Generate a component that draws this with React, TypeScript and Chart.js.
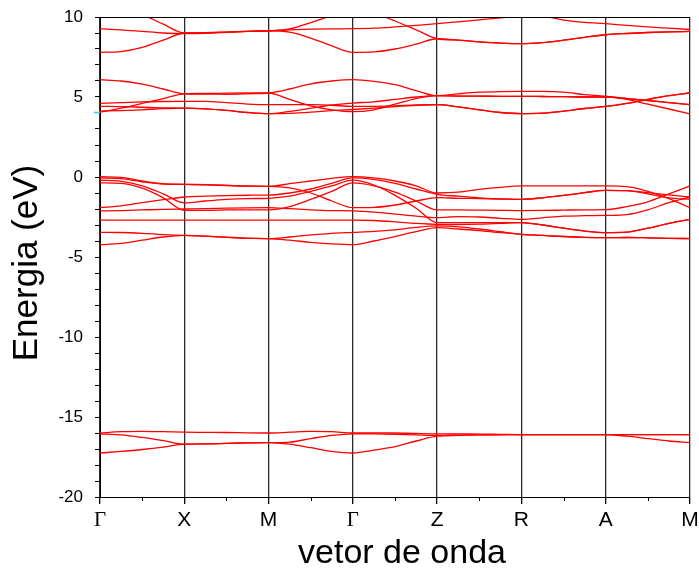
import { useEffect, useRef } from 'react';
import { Chart, registerables } from 'chart.js';

Chart.register(...registerables);

// Path through the Brillouin zone: one unit per high-symmetry segment
const kPath = [
  0, 0.25, 0.5, 0.75, 1, 1.25, 1.5, 1.75, 2, 2.25, 2.5, 2.75, 3, 3.25, 3.5,
  3.75, 4, 4.25, 4.5, 4.75, 5, 5.25, 5.5, 5.75, 6, 6.25, 6.5, 6.75, 7,
];
const kLabels = ['Γ', 'X', 'M', 'Γ', 'Z', 'R', 'A', 'M'];
const energyMin = -20;
const energyMax = 10;
const gapMarker = 4.04;
const xTitle = 'vetor de onda';
const yTitle = 'Energia (eV)';

// Upper conduction bands (eV)
const bandUpperA = [
  10.9, 10.55, 10.15, 9.55, 9.0, 9.02, 9.06, 9.1, 9.14, 9.25, 9.65, 10.1, 10.6,
  10.25, 9.75, 9.2, 8.64, 8.55, 8.45, 8.37, 8.33, 8.4, 8.55, 8.73, 8.89, 8.97,
  9.03, 9.07, 9.1,
];
const bandUpperB = [
  7.79, 7.84, 8.1, 8.55, 9.0, 9.02, 9.06, 9.1, 9.14, 9.05, 8.68, 8.2, 7.79,
  7.82, 8.0, 8.3, 8.64, 8.55, 8.45, 8.37, 8.33, 8.4, 8.55, 8.73, 8.89, 8.97,
  9.03, 9.07, 9.1,
];
const bandUpperC = [
  9.27, 9.2, 9.1, 9.0, 8.96, 8.98, 9.04, 9.1, 9.14, 9.2, 9.24, 9.26, 9.27, 9.3,
  9.38, 9.48, 9.58, 9.7, 9.82, 9.94, 10.04, 10.04, 9.8, 9.66, 9.58, 9.48, 9.38,
  9.3, 9.22,
];

// Lower conduction bands (eV)
const bandCond1 = [
  6.08, 6.0, 5.8, 5.5, 5.2, 5.18, 5.17, 5.2, 5.25, 5.5, 5.82, 6.0, 6.08, 5.98,
  5.77, 5.4, 5.08, 5.2, 5.3, 5.34, 5.35, 5.35, 5.3, 5.15, 5.05, 4.85, 4.55,
  4.25, 3.95,
];
const bandCond2 = [
  4.05, 4.3, 4.6, 4.9, 5.2, 5.22, 5.24, 5.25, 5.25, 4.85, 4.45, 4.2, 4.08, 4.2,
  4.55, 4.9, 5.08, 5.06, 5.05, 5.04, 5.04, 5.03, 5.02, 5.0, 5.0, 4.9, 4.78,
  4.65, 4.52,
];
const bandCond3 = [
  4.6, 4.65, 4.7, 4.72, 4.73, 4.73, 4.65, 4.56, 4.52, 4.52, 4.52, 4.48, 4.42,
  4.42, 4.45, 4.5, 4.52, 4.38, 4.2, 4.03, 3.96, 3.99, 4.12, 4.28, 4.41, 4.6,
  4.85, 5.08, 5.25,
];
const bandCond4 = [
  4.42, 4.4, 4.36, 4.32, 4.31, 4.26, 4.16, 4.03, 3.96, 3.98, 4.05, 4.15, 4.22,
  4.3, 4.4, 4.48, 4.52, 4.38, 4.2, 4.03, 3.96, 3.99, 4.12, 4.28, 4.41, 4.6,
  4.85, 5.08, 5.25,
];
const bandCond5 = [
  4.12, 4.15, 4.2, 4.27, 4.31, 4.26, 4.16, 4.03, 3.96, 4.1, 4.3, 4.5, 4.62,
  4.7, 4.85, 5.0, 5.08, 5.06, 5.05, 5.04, 5.04, 5.03, 5.02, 5.0, 5.0, 4.9,
  4.78, 4.65, 4.52,
];

// Valence bands (eV)
const bandVal1 = [
  0.02, -0.02, -0.25, -0.42, -0.46, -0.48, -0.52, -0.56, -0.58, -0.42, -0.25,
  -0.08, 0.02, -0.06, -0.25, -0.55, -1.0, -0.95, -0.77, -0.65, -0.56, -0.56,
  -0.56, -0.56, -0.56, -0.6, -0.9, -1.35, -1.92,
];
const bandVal2 = [
  -0.06, -0.1, -0.3, -0.44, -0.46, -0.49, -0.53, -0.57, -0.58, -0.68, -1.0,
  -1.5, -1.92, -1.9, -1.75, -1.5, -1.29, -1.33, -1.35, -1.38, -1.4, -1.3,
  -1.15, -0.98, -0.83, -0.85, -0.98, -1.12, -1.25,
];
const bandVal3 = [
  -0.2, -0.27, -0.55, -1.05, -1.62, -1.5, -1.4, -1.35, -1.33, -1.2, -0.9,
  -0.55, -0.2, -0.5, -1.15, -1.95, -2.85, -2.85, -2.85, -2.85, -2.85, -3.0,
  -3.2, -3.38, -3.48, -3.45, -3.2, -2.9, -2.65,
];
const bandVal4 = [
  -0.37, -0.4, -0.7, -1.3, -2.08, -2.08, -2.06, -2.05, -2.05, -1.85, -1.4,
  -0.9, -0.37, -0.55, -0.95, -1.5, -2.06, -2.06, -2.07, -2.08, -2.1, -2.09,
  -2.07, -2.05, -2.04, -1.85, -1.55, -1.05, -0.56,
];
const bandVal5 = [
  -1.92, -1.8, -1.6, -1.42, -1.25, -1.2, -1.16, -1.14, -1.13, -1.0, -0.75,
  -0.4, -0.06, -0.15, -0.4, -0.75, -1.08, -1.2, -1.3, -1.37, -1.4, -1.3, -1.15,
  -0.98, -0.83, -0.85, -1.05, -1.3, -1.4,
];
const bandVal6 = [
  -2.12, -2.1, -2.06, -2.02, -2.0, -1.98, -1.95, -1.93, -1.92, -1.98, -2.05,
  -2.1, -2.12, -2.2, -2.32, -2.45, -2.54, -2.48, -2.5, -2.58, -2.65, -2.55,
  -2.45, -2.42, -2.4, -2.35, -2.05, -1.6, -1.25,
];
const bandVal7 = [
  -2.69, -2.69, -2.69, -2.69, -2.69, -2.69, -2.69, -2.69, -2.69, -2.69, -2.69,
  -2.69, -2.69, -2.72, -2.8, -2.9, -2.96, -2.97, -2.95, -2.9, -2.85, -3.0,
  -3.2, -3.38, -3.48, -3.45, -3.2, -2.9, -2.65,
];
const bandVal8 = [
  -3.46, -3.47, -3.52, -3.6, -3.65, -3.7, -3.76, -3.82, -3.85, -3.75, -3.62,
  -3.52, -3.46, -3.4, -3.3, -3.15, -3.06, -3.12, -3.25, -3.42, -3.58, -3.65,
  -3.72, -3.77, -3.79, -3.78, -3.8, -3.83, -3.85,
];
const bandVal9 = [
  -4.23, -4.15, -3.95, -3.75, -3.65, -3.7, -3.77, -3.83, -3.85, -3.95, -4.08,
  -4.18, -4.23, -4.0, -3.72, -3.42, -3.17, -3.25, -3.35, -3.48, -3.58, -3.65,
  -3.72, -3.77, -3.79, -3.78, -3.8, -3.83, -3.85,
];

// Semicore bands (eV)
const bandDeep1 = [
  -16.0, -15.92, -15.9, -15.92, -15.95, -15.96, -15.97, -15.99, -16.0, -15.95,
  -15.9, -15.92, -16.0, -16.0, -16.0, -16.03, -16.05, -16.05, -16.07, -16.08,
  -16.1, -16.1, -16.1, -16.1, -16.1, -16.1, -16.1, -16.1, -16.1,
];
const bandDeep2 = [
  -16.05, -16.12, -16.28, -16.48, -16.7, -16.68, -16.65, -16.62, -16.6,
  -16.57, -16.35, -16.15, -16.05, -16.06, -16.08, -16.12, -16.15, -16.13,
  -16.12, -16.11, -16.1, -16.1, -16.1, -16.1, -16.1, -16.2, -16.35, -16.5,
  -16.6,
];
const bandDeep3 = [
  -17.25, -17.15, -17.03, -16.88, -16.7, -16.68, -16.65, -16.62, -16.6,
  -16.7, -16.92, -17.15, -17.25, -17.07, -16.85, -16.5, -16.2, -16.15, -16.12,
  -16.1, -16.1, -16.1, -16.1, -16.1, -16.1, -16.1, -16.1, -16.1, -16.1,
];

const bands = [
  bandUpperA, bandUpperB, bandUpperC,
  bandCond1, bandCond2, bandCond3, bandCond4, bandCond5,
  bandVal1, bandVal2, bandVal3, bandVal4, bandVal5, bandVal6, bandVal7, bandVal8, bandVal9,
  bandDeep1, bandDeep2, bandDeep3,
];

const SANS = "'Liberation Sans', Arial, sans-serif";
const SERIF = "'Liberation Serif', 'Times New Roman', serif";

// Frame top edge, half-way minor ticks on the k axis, the level marker and axis titles
const framePlugin = {
  id: 'bandFrame',
  afterDraw(chart: any) {
    const { ctx, chartArea } = chart;
    const xs = chart.scales.x;
    const ys = chart.scales.y;
    ctx.save();
    ctx.strokeStyle = '#000';
    ctx.lineWidth = 1;
    ctx.beginPath();
    ctx.moveTo(chartArea.left, chartArea.top + 0.5);
    ctx.lineTo(chartArea.right, chartArea.top + 0.5);
    for (let i = 0; i < kLabels.length - 1; i++) {
      const px = Math.round(xs.getPixelForValue(i + 0.5)) + 0.5;
      ctx.moveTo(px, chartArea.bottom);
      ctx.lineTo(px, chartArea.bottom + 4);
    }
    ctx.stroke();

    const my = Math.round(ys.getPixelForValue(gapMarker)) + 0.5;
    ctx.strokeStyle = '#19e0e8';
    ctx.lineWidth = 1.5;
    ctx.beginPath();
    ctx.moveTo(chartArea.left - 6, my);
    ctx.lineTo(chartArea.left, my);
    ctx.stroke();

    ctx.fillStyle = '#000';
    ctx.textAlign = 'center';
    ctx.textBaseline = 'middle';
    ctx.font = `34px ${SANS}`;
    ctx.fillText(xTitle, (chartArea.left + chartArea.right) / 2 + 7, 554);
    ctx.translate(27, (chartArea.top + chartArea.bottom) / 2 + 6);
    ctx.rotate(-Math.PI / 2);
    ctx.font = `35px ${SANS}`;
    ctx.fillText(yTitle, 0, 0);
    ctx.restore();
  },
};

export default function App() {
  const canvasRef = useRef<HTMLCanvasElement | null>(null);

  useEffect(() => {
    const canvas = canvasRef.current;
    if (!canvas) return;
    const chart = new Chart(canvas, {
      type: 'line',
      data: {
        datasets: bands.map((band) => ({
          data: kPath.map((k, i) => ({ x: k, y: band[i] })),
          borderColor: '#ff0000',
          borderWidth: 1.3,
          pointRadius: 0,
          fill: false,
          cubicInterpolationMode: 'monotone' as const,
        })),
      },
      options: {
        responsive: false,
        animation: false,
        devicePixelRatio: 1,
        layout: { padding: { top: 17, right: 9, left: 0, bottom: 0 } },
        plugins: { legend: { display: false }, tooltip: { enabled: false } },
        scales: {
          x: {
            type: 'linear',
            min: 0,
            max: kLabels.length - 1,
            afterFit: (s: any) => {
              s.height = 76;
              s.paddingLeft = 0;
              s.paddingRight = 0;
            },
            ticks: {
              stepSize: 1,
              autoSkip: false,
              maxRotation: 0,
              padding: 4,
              color: '#000',
              callback: (v: any) => kLabels[Math.round(Number(v))] ?? '',
              font: (c: any) => {
                const lbl = kLabels[c.index] ?? '';
                return lbl === 'Γ'
                  ? { family: SERIF, size: 21 }
                  : { family: SANS, size: 21 };
              },
            },
            grid: {
              color: '#2a2a2a',
              lineWidth: 1.3,
              drawTicks: true,
              tickLength: 7,
              tickColor: '#000',
            },
            border: { color: '#000', width: 1 },
            title: { display: false },
          },
          y: {
            type: 'linear',
            min: energyMin,
            max: energyMax,
            afterFit: (s: any) => {
              s.width = 100;
              s.paddingTop = 0;
              s.paddingBottom = 0;
            },
            ticks: {
              stepSize: 1,
              autoSkip: false,
              padding: 12,
              color: '#000',
              font: { family: SANS, size: 17 },
              callback: (v: any) => (Number(v) % 5 === 0 ? String(v) : ''),
            },
            grid: {
              drawOnChartArea: false,
              drawTicks: true,
              tickLength: 5,
              color: '#000',
            },
            border: { color: '#000', width: 1 },
            title: { display: false },
          },
        },
      },
      plugins: [framePlugin],
    });
    return () => chart.destroy();
  }, []);

  return (
    <div style={{ position: 'fixed', left: 0, top: 0, width: 699, height: 573, background: '#fff' }}>
      <canvas ref={canvasRef} width={699} height={573} />
    </div>
  );
}
